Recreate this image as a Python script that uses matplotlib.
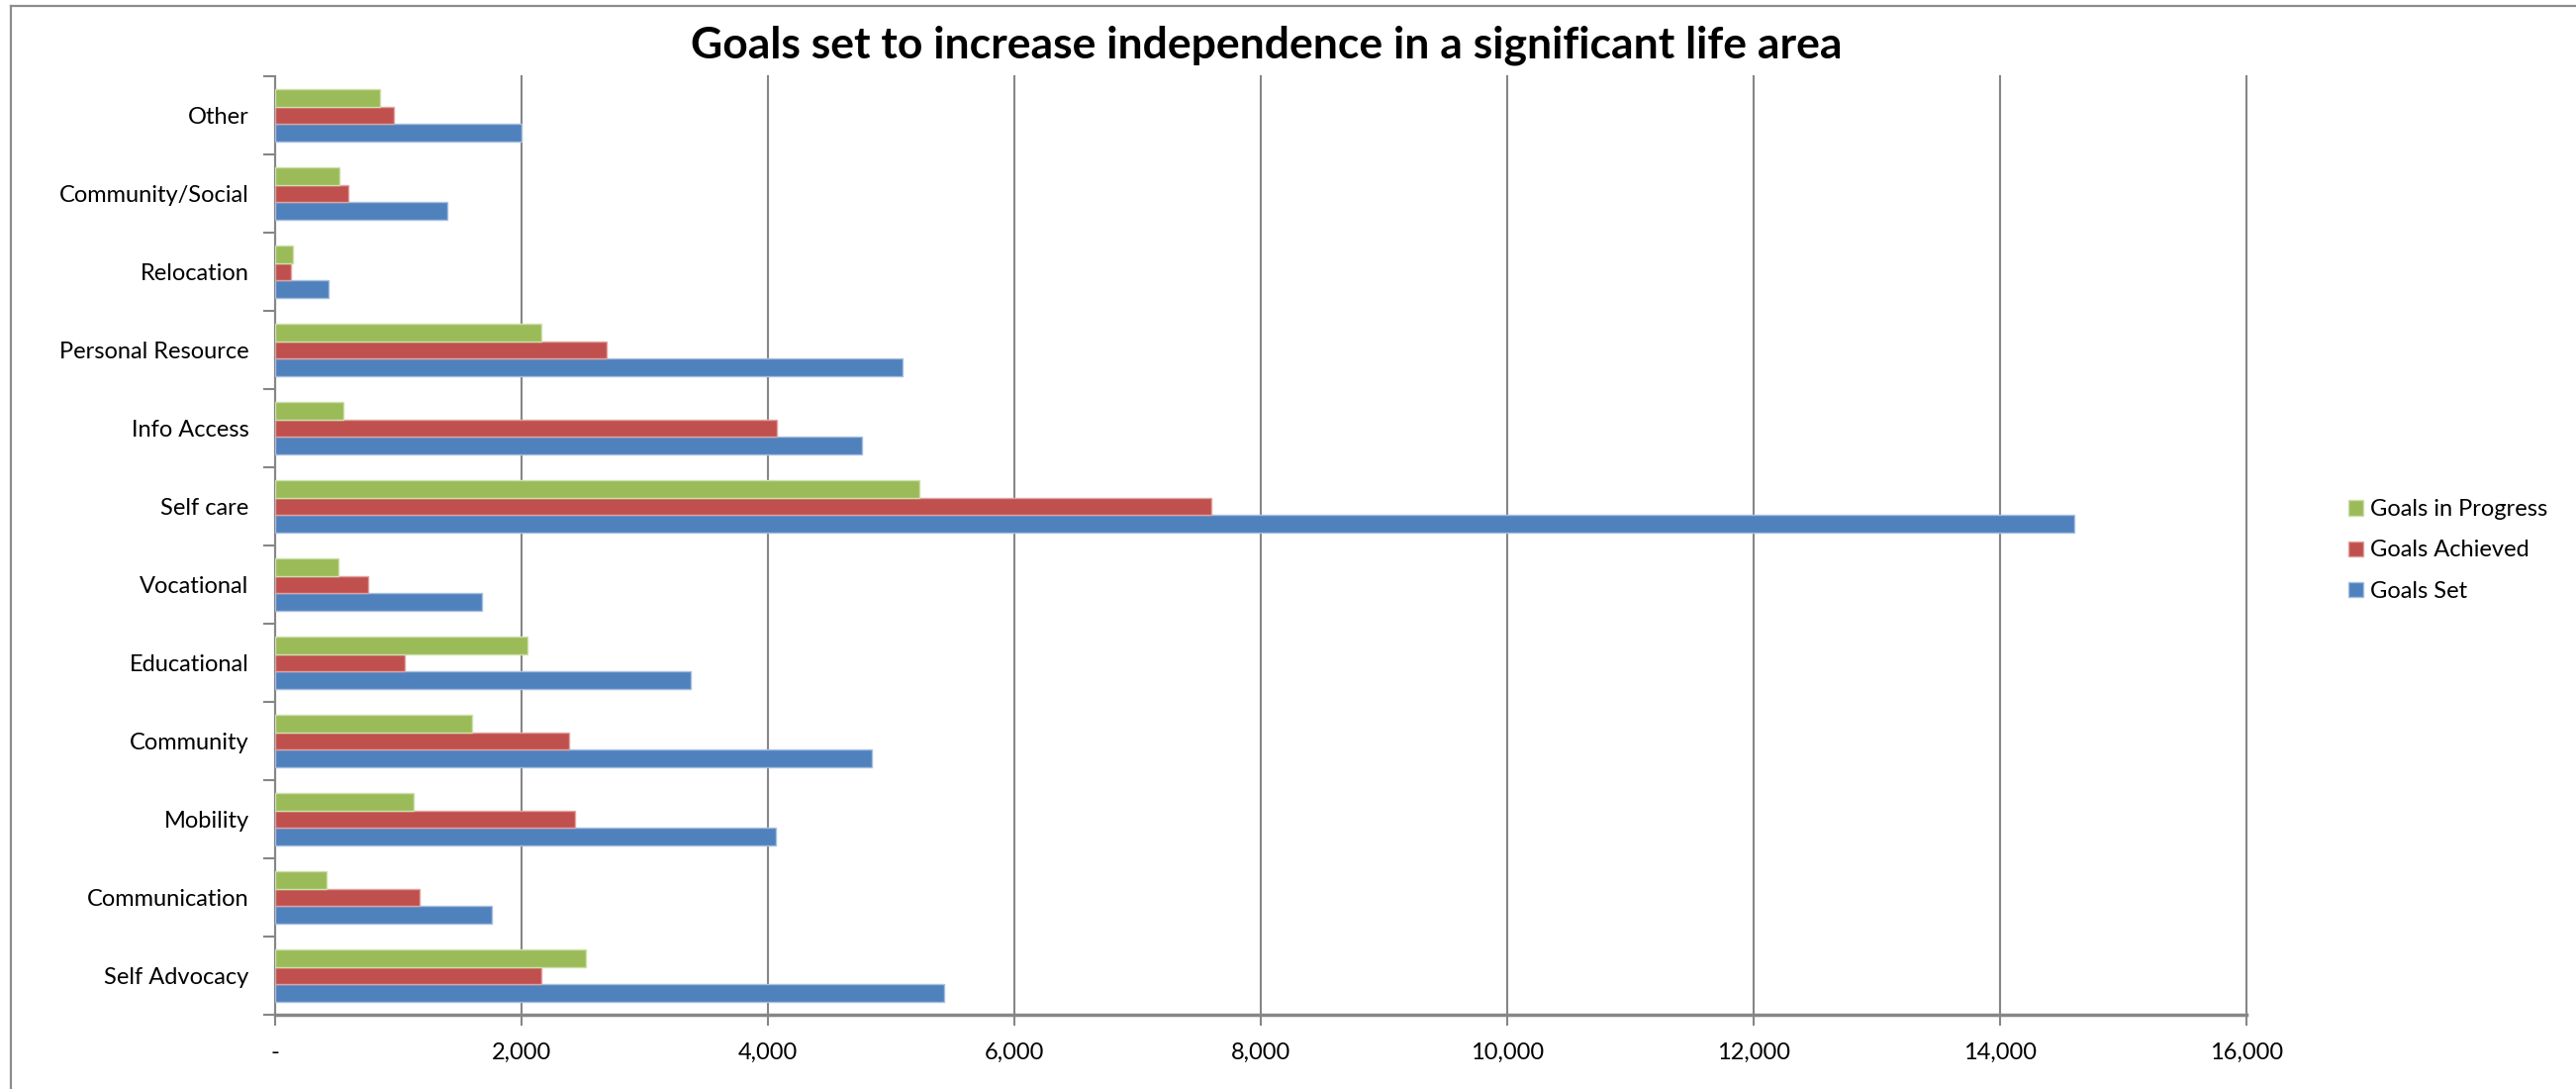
import matplotlib
matplotlib.use('Agg')
import matplotlib.pyplot as plt
import numpy as np
from matplotlib.ticker import FuncFormatter, FixedLocator
from matplotlib.lines import Line2D

plt.rcParams['font.family'] = ['Lato', 'DejaVu Sans']

# categories from bottom to top, as drawn
categories = ['Self Advocacy', 'Communication', 'Mobility', 'Community', 'Educational',
              'Vocational', 'Self care', 'Info Access', 'Personal Resource', 'Relocation',
              'Community/Social', 'Other']
goals_set = [5426, 1762, 4066, 4844, 3373, 1676, 14600, 4766, 5090, 434, 1398, 2000]
goals_achieved = [2164, 1172, 2430, 2385, 1049, 754, 7600, 4074, 2693, 131, 594, 967]
goals_in_progress = [2520, 418, 1123, 1602, 2045, 512, 5225, 557, 2160, 143, 525, 852]
x_ticks = [0, 2000, 4000, 6000, 8000, 10000, 12000, 14000, 16000]

BLUE, RED, GREEN = '#4F81BD', '#C0504D', '#9BBB59'
GRID = '#868686'

W, H = 2603, 1100
fig = plt.figure(figsize=(W / 100, H / 100), dpi=100)
ax = fig.add_axes([278 / W, 1 - 1025 / H, (2270 - 278) / W, (1025 - 77) / H])

y = np.arange(len(categories))
h = 0.222
ax.barh(y - h, goals_set, height=h, color=BLUE, edgecolor='#a7bedf', linewidth=1, label='Goals Set', zorder=3)
ax.barh(y, goals_achieved, height=h, color=RED, edgecolor='#e0a3a2', linewidth=1, label='Goals Achieved', zorder=3)
ax.barh(y + h, goals_in_progress, height=h, color=GREEN, edgecolor='#cde0ab', linewidth=1, label='Goals in Progress', zorder=3)

ax.set_xlim(0, 16000)
ax.set_ylim(-0.5, len(categories) - 0.5)

# x axis
ax.xaxis.set_major_locator(FixedLocator(x_ticks))
ax.xaxis.set_major_formatter(FuncFormatter(lambda v, p: '-' if v == 0 else '{:,.0f}'.format(v)))
ax.tick_params(axis='x', length=8, width=1.5, color=GRID, pad=12, labelsize=17)
ax.grid(axis='x', color=GRID, linewidth=1.5, zorder=0)
for gl in ax.get_xgridlines():
    gl.set_clip_on(False)  # keep the 16,000 line full width

# y axis: ticks at group edges, labels at centres
ax.yaxis.set_major_locator(FixedLocator(np.arange(-0.5, len(categories), 1.0)))
ax.yaxis.set_major_formatter(FuncFormatter(lambda v, p: ''))
ax.yaxis.set_minor_locator(FixedLocator(y))
ax.set_yticklabels(categories, minor=True)
ax.tick_params(axis='y', which='major', length=9, width=1.5, color=GRID)
ax.tick_params(axis='y', which='minor', length=0, pad=19, labelsize=17)

for s in ['top', 'right']:
    ax.spines[s].set_visible(False)
ax.spines['left'].set_color(GRID)
ax.spines['left'].set_linewidth(1.5)
ax.spines['bottom'].set_color(GRID)
ax.spines['bottom'].set_linewidth(2.5)
ax.set_axisbelow(True)

fig.text(1280 / W, 1 - 46 / H, 'Goals set to increase independence in a significant life area',
         ha='center', va='center', fontsize=32, fontweight='bold')

handles, labels = ax.get_legend_handles_labels()
fig.legend(handles[::-1], labels[::-1], loc='center left', bbox_to_anchor=(2373 / W, 1 - 556 / H),
           frameon=False, fontsize=17, handlelength=0.62, handleheight=0.62, handletextpad=0.3,
           labelspacing=0.85, borderpad=0, borderaxespad=0)

# chart area border (left and top only visible)
fig.add_artist(Line2D([11 / W, 11 / W], [0, 1 - 6 / H], color='#8c8c8c', linewidth=1.6))
fig.add_artist(Line2D([11 / W, 1], [1 - 6 / H, 1 - 6 / H], color='#8c8c8c', linewidth=1.6))

fig.savefig('out.png', dpi=100)
